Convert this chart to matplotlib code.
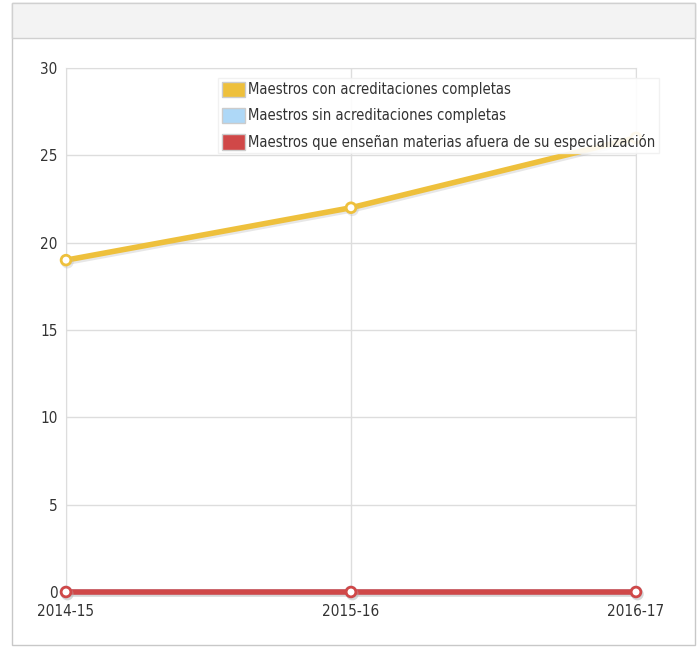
import numpy as np
import matplotlib.pyplot as plt
from matplotlib.patches import Rectangle, Patch
import matplotlib.patheffects as pe

# ==========================
# Data
# ==========================
years = ["2014-15", "2015-16", "2016-17"]
con_acred = [19, 22, 26]
sin_acred = [0, 0, 0]
fuera_esp = [0, 0, 0]

labels = ["Maestros con acreditaciones completas",
          "Maestros sin acreditaciones completas",
          "Maestros que enseñan materias afuera de su especialización"]
colors = ["#EEC03C", "#AED8F7", "#D04848"]

plt.rcParams['font.family'] = ['DejaVu Sans']
plt.rcParams['font.stretch'] = 'condensed'

fig = plt.figure(figsize=(6.99, 6.48), dpi=100)

# outer panel and header band
W, H = 699, 648
fig.patches.append(Rectangle((12 / W, 1 - 645 / H), 683 / W, 642 / H, transform=fig.transFigure,
                             facecolor="white", edgecolor="#c8c8c8", lw=1, zorder=-10))
fig.patches.append(Rectangle((12 / W, 1 - 38 / H), 683 / W, 35 / H, transform=fig.transFigure,
                             facecolor="#f3f3f3", edgecolor="#d0d0d0", lw=1, zorder=-9))

ax = fig.add_axes([66 / W, 1 - 592 / H, 570 / W, 524 / H], zorder=5)
ax.set_facecolor("none")
x = np.arange(len(years))

shadow = [pe.SimpleLineShadow(offset=(1, -1.5), shadow_color="#bbbbbb", alpha=0.35), pe.Normal()]
for vals, c in zip([con_acred, sin_acred, fuera_esp], colors):
    ax.plot(x, vals, color=c, lw=4, marker="o", ms=7, mfc="white", mec=c, mew=2,
            clip_on=False, zorder=3, path_effects=shadow)

ax.set_xlim(0, 2)
ax.set_ylim(0, 30)
ax.set_yticks(range(0, 31, 5))
ax.set_xticks(x)
ax.set_xticklabels(years)
ax.grid(True, color="#dddddd", lw=1)
ax.set_axisbelow(True)
for s in ax.spines.values():
    s.set_color("#dddddd")
ax.tick_params(length=0, labelsize=11, colors="#333333")
ax.tick_params(axis="y", pad=6)
ax.tick_params(axis="x", pad=9)

handles = [Patch(facecolor=c, edgecolor="#cccccc", lw=1) for c in colors]
leg = ax.legend(handles, labels, loc="upper left", bbox_to_anchor=(152 / 570, 1 - 10 / 524),
                frameon=True, fontsize=10.6, handlelength=1.55, handleheight=1.25,
                handletextpad=0.25, labelspacing=0.7, borderaxespad=0, borderpad=0.25,
                fancybox=False, labelcolor="#333333")
leg.get_frame().set_edgecolor("#f0f0f0")
leg.get_frame().set_alpha(0.9)

fig.savefig("out.png", dpi=100)
